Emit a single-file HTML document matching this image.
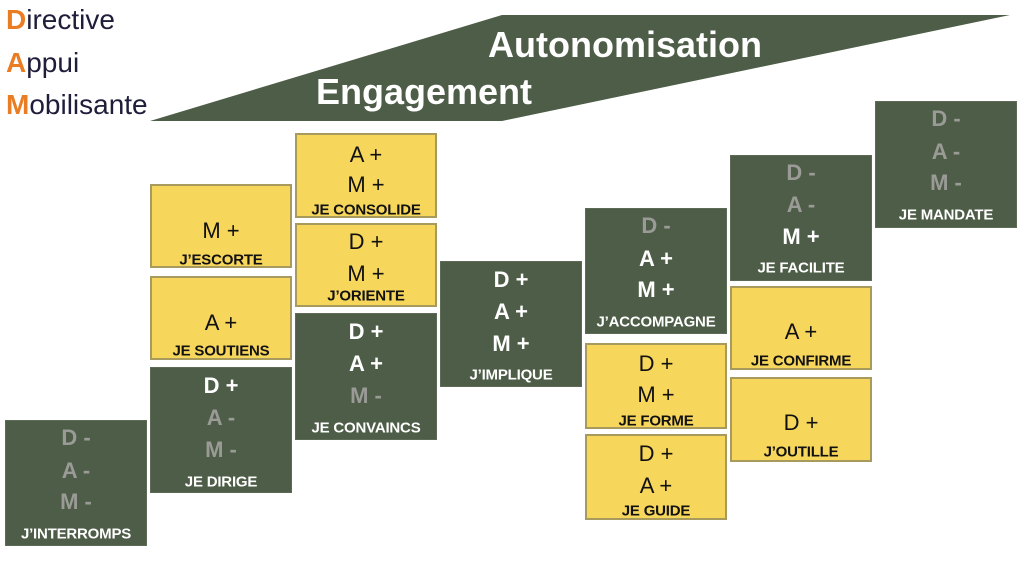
<!DOCTYPE html>
<html><head><meta charset="utf-8"><style>
body{margin:0;width:1024px;height:561px;background:#fff;position:relative;overflow:hidden;font-family:"Liberation Sans",sans-serif}
.b{position:absolute;box-sizing:border-box;width:142px}
.g{background:#4e5d47;border:1px solid #5d6b56}
.y{background:#f7d65c;border:2px solid #a8995c}
.t{position:absolute;left:0;right:0;text-align:center;line-height:1;transform:translateY(-50%);white-space:nowrap}
.g .t{color:#fff;font-weight:bold;font-size:22px}
.g .t.d{color:#9a9a96}
.y .t{color:#111;font-size:22px}
.t.l{font-size:15px;font-weight:bold;letter-spacing:-0.2px}
.g .t.l{color:#fff}
.y .t.l{color:#111}
.leg{position:absolute;left:6px;font-size:28px;color:#1f1d3a;line-height:1}
.leg b{color:#ea7d23}
</style></head><body>
<div class="leg" style="top:6px">Directive</div>
<div class="leg" style="top:49px">Appui</div>
<div class="leg" style="top:91px">Mobilisante</div>
<svg style="position:absolute;left:0;top:0" width="1024" height="130"><polygon points="150,121 502,15 1010,15 502,121" fill="#4e5d47"/>
<text x="625" y="57" text-anchor="middle" fill="#fff" font-family="Liberation Sans" font-weight="bold" font-size="36">Autonomisation</text>
<text x="424" y="104" text-anchor="middle" fill="#fff" font-family="Liberation Sans" font-weight="bold" font-size="36">Engagement</text></svg>
<div id="c"></div>
<script>
const L=document.querySelectorAll('.leg');L.forEach(e=>{e.innerHTML='<b>'+e.textContent[0]+'</b>'+e.textContent.slice(1)});
const B=[
['g',5,420,126,[['D -',437,1],['A -',470,1],['M -',501,1],['J\u2019INTERROMPS',533,2]]],
['y',150,184,84,[['M +',229],['J\u2019ESCORTE',258,2]]],
['y',150,276,84,[['A +',321],['JE SOUTIENS',349,2]]],
['g',150,367,126,[['D +',385],['A -',417,1],['M -',449,1],['JE DIRIGE',481,2]]],
['y',295,133,85,[['A +',153],['M +',183],['JE CONSOLIDE',208,2]]],
['y',295,223,84,[['D +',240],['M +',272],['J\u2019ORIENTE',294,2]]],
['g',295,313,127,[['D +',331],['A +',363],['M -',395,1],['JE CONVAINCS',427,2]]],
['g',440,261,126,[['D +',279],['A +',311],['M +',343],['J\u2019IMPLIQUE',374,2]]],
['g',585,208,126,[['D -',225,1],['A +',258],['M +',289],['J\u2019ACCOMPAGNE',321,2]]],
['y',585,343,86,[['D +',362],['M +',393],['JE FORME',419,2]]],
['y',585,434,86,[['D +',452],['A +',484],['JE GUIDE',509,2]]],
['g',730,155,126,[['D -',172,1],['A -',204,1],['M +',236],['JE FACILITE',267,2]]],
['y',730,286,84,[['A +',330],['JE CONFIRME',359,2]]],
['y',730,377,85,[['D +',421],['J\u2019OUTILLE',450,2]]],
['g',875,101,127,[['D -',118,1],['A -',151,1],['M -',182,1],['JE MANDATE',214,2]]]];
let h='';for(const[c,x,y,hh,ls]of B){h+=`<div class="b ${c}" style="left:${x}px;top:${y}px;height:${hh}px">`;for(const[t,cy,k]of ls){h+=`<div class="t ${k==1?'d':k==2?'l':''}" style="top:${cy-y}px">${t}</div>`}h+='</div>'}
document.getElementById('c').innerHTML=h;
</script>
</body></html>
